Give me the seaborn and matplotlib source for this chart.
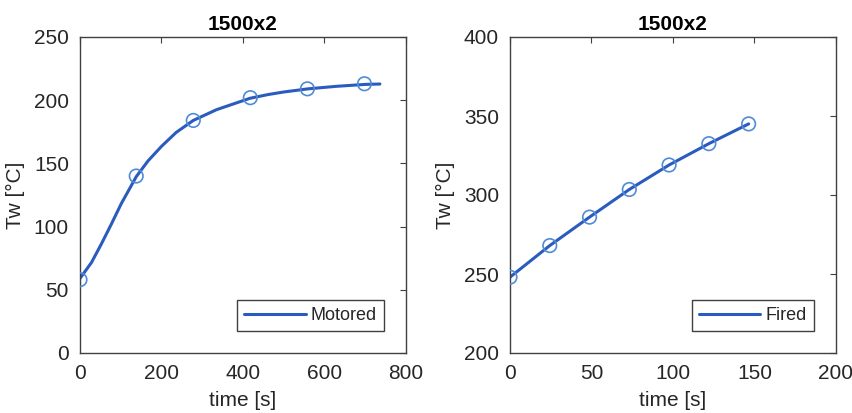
import numpy as np
import pandas as pd
import seaborn as sns
import matplotlib.pyplot as plt

# measured points (markers)
motored_t = [0, 138, 278, 418, 558, 698]
motored_tw = [58, 140, 184, 202, 209, 213]
fired_t = [0, 24.4, 48.8, 73.2, 97.6, 122, 146.4]
fired_tw = [248, 268, 286, 303.5, 319, 332.5, 345]

# fitted curves
motored_fit_t = [0, 28, 52, 77, 101, 126, 138, 167, 200, 236, 278, 335, 417, 462,
                 500, 560, 630, 700, 736]
motored_fit_tw = [59, 71.5, 86, 102, 118, 132.5, 139.5, 152, 163.5, 174.5, 184, 192.5,
                  201.5, 204.5, 206.5, 209, 211, 212.5, 212.8]
fired_fit_t = [0, 24.4, 48.8, 73.2, 97.6, 122, 146.4]
fired_fit_tw = [248, 268, 286, 303.5, 319, 332.5, 345]

sns.set_style('white')
plt.rcParams['font.family'] = ['Liberation Sans', 'DejaVu Sans']
plt.rcParams['font.size'] = 15

line_col = '#2B5BBF'
mark_col = '#4F8BD6'
axis_col = '#404040'

fig = plt.figure(figsize=(8.53, 4.13), dpi=100)
ax1 = fig.add_axes([80/853, 1-353/413, 326/853, 316/413])
ax2 = fig.add_axes([510/853, 1-353/413, 326/853, 316/413])

panels = [
    (ax1, motored_fit_t, motored_fit_tw, motored_t, motored_tw, 'Motored',
     (0, 800), np.arange(0, 801, 200), (0, 250), np.arange(0, 251, 50)),
    (ax2, fired_fit_t, fired_fit_tw, fired_t, fired_tw, 'Fired',
     (0, 200), np.arange(0, 201, 50), (200, 400), np.arange(200, 401, 50)),
]

for ax, ft, fy, mt, my, name, xl, xt, yl, yt in panels:
    curve = pd.DataFrame({'t': ft, 'Tw': fy})
    pts = pd.DataFrame({'t': mt, 'Tw': my})
    sns.lineplot(data=curve, x='t', y='Tw', ax=ax, color=line_col, lw=2.2, label=name)
    sns.scatterplot(data=pts, x='t', y='Tw', ax=ax, marker='o', s=95,
                    fc='none', ec=mark_col, linewidth=1.2, legend=False, zorder=3)
    ax.set_xlim(xl)
    ax.set_ylim(yl)
    ax.set_xticks(xt)
    ax.set_yticks(yt)
    ax.set_title('1500x2', fontsize=15, fontweight='bold', color='black', pad=5)
    ax.set_xlabel('time [s]', fontsize=15, color='#262626', labelpad=6)
    ax.set_ylabel('Tw [°C]', fontsize=15, color='#262626', labelpad=6)
    ax.tick_params(direction='in', length=4, width=0.8, colors=axis_col,
                   labelcolor='#262626', labelsize=15, top=True, right=True, pad=8)
    for sp in ax.spines.values():
        sp.set_color(axis_col)
        sp.set_linewidth(1.0)
    leg = ax.legend(loc='lower right', fontsize=13, handlelength=3.4,
                    fancybox=False, framealpha=1, borderaxespad=1.2,
                    borderpad=0.4, handletextpad=0.3)
    leg.get_frame().set_edgecolor(axis_col)
    leg.get_frame().set_linewidth(1.0)

fig.savefig('out.png', dpi=100)
